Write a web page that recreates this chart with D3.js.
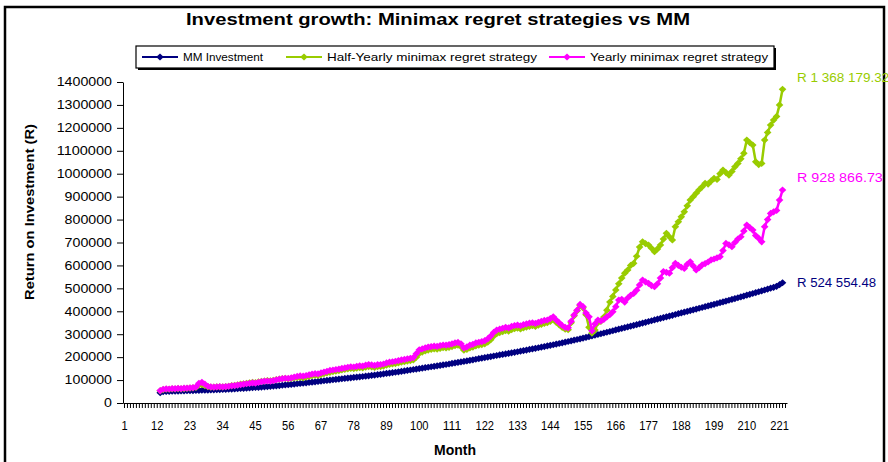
<!DOCTYPE html>
<html>
<head>
<meta charset="utf-8">
<script src="https://cdn.jsdelivr.net/npm/d3@7"></script>
<style>
  html, body { margin: 0; padding: 0; background: #fff; }
  svg { display: block; font-family: Arial, "Liberation Sans", sans-serif; }
</style>
</head>
<body>
<div id="chart"></div>
<script>
// ── Data ──────────────────────────────────────────────────────────────────
const MONTH_COUNT = 223;           // category slots on the x axis
const FIRST_DATA_MONTH = 13;       // series start here
const tickLabels = [1, 12, 23, 34, 45, 56, 67, 78, 89, 100, 111, 122, 133, 144, 155, 166, 177, 188, 199, 210, 221];
const yTicks = [0, 100000, 200000, 300000, 400000, 500000, 600000, 700000, 800000, 900000,
  1000000, 1100000, 1200000, 1300000, 1400000];

const seriesNames = ["MM Investment", "Half-Yearly minimax regret strategy", "Yearly minimax regret strategy"];
const seriesColors = ["#000080", "#99cc00", "#ff00ff"];
const endLabels = ["R 524 554.48", "R 1 368 179.32", "R  928 866.73"];

// months 13 .. 222
const mmValues = [
  45000, 50000, 50500, 51000, 51400, 51800, 52200, 52600, 53000, 53400,
  53800, 54200, 54600, 55000, 55500, 56000, 56500, 57000, 57500, 58000,
  58500, 59000, 59600, 60200, 60900, 61600, 62400, 63200, 64000, 64800,
  65700, 66600, 67500, 68500, 69500, 70500, 71600, 72700, 73800, 75000,
  76200, 77400, 78700, 80000, 81300, 82600, 84000, 85400, 86800, 88200,
  89600, 91000, 92500, 94000, 95500, 97000, 98500, 100000, 101500, 103000,
  104400, 105800, 107200, 108600, 110000, 111400, 112800, 114200, 115600, 117000,
  118600, 120200, 121800, 123500, 125200, 127000, 128800, 130600, 132400, 134200,
  136000, 138000, 140000, 142000, 144000, 146000, 148000, 150000, 152000, 154000,
  156000, 158000, 160000, 162000, 164000, 166000, 168000, 170200, 172400, 174600,
  176800, 179000, 181300, 183600, 186000, 188400, 190800, 193200, 195600, 198000,
  200300, 202600, 204900, 207200, 209500, 211800, 214100, 216400, 218800, 221200,
  223600, 226000, 228500, 231000, 233500, 236000, 238500, 241000, 243600, 246200,
  248800, 251400, 254000, 256800, 259600, 262400, 265300, 268200, 271100, 274000,
  277000, 280000, 283000, 286000, 289200, 292400, 295600, 298800, 302000, 305300,
  308600, 311900, 315200, 318500, 321800, 325100, 328400, 331700, 335000, 338400,
  341800, 345200, 348600, 352000, 355400, 358800, 362200, 365600, 369000, 372400,
  375800, 379200, 382600, 386000, 389400, 392800, 396200, 399600, 403000, 406400,
  409800, 413200, 416600, 420000, 423500, 427000, 430500, 434000, 437500, 441000,
  444600, 448200, 451800, 455400, 459000, 462700, 466400, 470100, 473800, 477600,
  481400, 485200, 489000, 492900, 496800, 500700, 504700, 508800, 516000, 524554.48
];

const halfYearlyValues = [
  53000, 58000, 60000, 60000, 61500, 61000, 62500, 62000, 63000, 64000,
  65000, 66000, 68000, 78000, 80000, 76000, 71000, 69000, 69000, 70000,
  70500, 70000, 71000, 73000, 75500, 77000, 79000, 82000, 84000, 86000,
  88000, 90000, 89000, 92000, 94000, 96000, 98000, 97000, 99000, 102000,
  104000, 106000, 107000, 105000, 107000, 109000, 111000, 112000, 110000, 113000,
  116000, 119000, 121000, 120000, 124000, 128000, 131000, 134000, 137000, 139000,
  141000, 144000, 146000, 149000, 151000, 150000, 152000, 154000, 153000, 156000,
  159000, 157000, 155000, 158000, 159000, 161000, 165000, 168000, 170000, 172000,
  175000, 178000, 180000, 183000, 185000, 188000, 200000, 216000, 222000, 227000,
  231000, 234000, 236000, 235000, 238000, 241000, 240000, 243000, 246000, 250000,
  252000, 246000, 230000, 234000, 240000, 244000, 249000, 252000, 255000, 258000,
  265000, 276000, 292000, 302000, 307000, 311000, 315000, 313000, 320000, 324000,
  326000, 323000, 328000, 331000, 334000, 337000, 334000, 339000, 343000, 347000,
  350000, 356000, 364000, 352000, 341000, 330000, 322000, 320000, 350000, 380000,
  402000, 425000, 415000, 385000, 330000, 305000, 318000, 350000, 356000, 375000,
  405000, 440000, 465000, 493000, 520000, 545000, 566000, 580000, 600000, 609000,
  640000, 680000, 703000, 695000, 689000, 675000, 660000, 672000, 689000, 715000,
  740000, 725000, 711000, 769000, 790000, 812000, 834000, 860000, 885000, 900000,
  915000, 930000, 943000, 958000, 955000, 968000, 980000, 975000, 1000000, 1016000,
  1005000, 994000, 1010000, 1030000, 1045000, 1065000, 1089000, 1147000, 1135000, 1125000,
  1052000, 1040000, 1045000, 1147000, 1180000, 1212000, 1234000, 1250000, 1300000, 1368179.32
];

const yearlyValues = [
  54000, 60000, 62000, 61000, 63000, 62500, 64000, 63000, 64500, 65000,
  66000, 67000, 70000, 86000, 90000, 82000, 73000, 70000, 69500, 70500,
  71000, 70000, 71500, 73000, 75000, 76000, 78000, 80000, 82000, 84000,
  86000, 88000, 87000, 90000, 93000, 95000, 96000, 95000, 98000, 101000,
  104000, 106000, 108000, 107000, 110000, 113000, 116000, 118000, 117000, 120000,
  123000, 126000, 128000, 127000, 131000, 135000, 138000, 142000, 144000, 146000,
  148000, 151000, 153000, 156000, 158000, 157000, 160000, 162000, 161000, 165000,
  168000, 166000, 164000, 167000, 168000, 170000, 175000, 178000, 180000, 182000,
  185000, 188000, 190000, 193000, 195000, 198000, 215000, 232000, 236000, 240000,
  244000, 246000, 248000, 247000, 250000, 253000, 252000, 255000, 258000, 262000,
  264000, 258000, 240000, 245000, 252000, 256000, 262000, 265000, 268000, 272000,
  280000, 292000, 308000, 318000, 322000, 326000, 330000, 328000, 334000, 338000,
  340000, 337000, 342000, 345000, 348000, 350000, 347000, 352000, 356000, 360000,
  362000, 368000, 376000, 362000, 350000, 338000, 330000, 328000, 356000, 384000,
  405000, 430000, 420000, 392000, 376000, 315000, 345000, 362000, 358000, 365000,
  376000, 385000, 398000, 420000, 449000, 452000, 440000, 458000, 470000, 478000,
  492000, 515000, 536000, 528000, 522000, 512000, 507000, 520000, 545000, 573000,
  570000, 566000, 590000, 609000, 600000, 592000, 587000, 605000, 616000, 598000,
  580000, 590000, 602000, 608000, 615000, 624000, 628000, 633000, 638000, 665000,
  696000, 690000, 682000, 700000, 715000, 725000, 750000, 776000, 765000, 754000,
  730000, 718000, 703000, 769000, 800000, 827000, 834000, 840000, 885000, 928866.73
];

const seriesValues = [mmValues, halfYearlyValues, yearlyValues];

// ── Layout ────────────────────────────────────────────────────────────────
const W = 888, H = 462;
const PLOT = { left: 123, right: 787, top: 82, bottom: 403 };

const months = d3.range(1, MONTH_COUNT + 1);
const x = d3.scaleBand().domain(months).range([PLOT.left, PLOT.right]).padding(0);
const y = d3.scaleLinear().domain([0, 1400000]).range([PLOT.bottom, PLOT.top]);
const cx = (m) => x(m) + x.bandwidth() / 2;

const svg = d3.select("#chart").append("svg").attr("width", W).attr("height", H);
svg.append("rect").attr("width", W).attr("height", H).attr("fill", "#fff");

// outer frame
svg.append("rect")
  .attr("x", 5).attr("y", 7).attr("width", 879).attr("height", 470)
  .attr("fill", "none").attr("stroke", "#000").attr("stroke-width", 2.5);

// ── Title ─────────────────────────────────────────────────────────────────
svg.append("text")
  .attr("x", 186).attr("y", 25)
  .attr("font-size", 17).attr("font-weight", "bold")
  .attr("textLength", 504).attr("lengthAdjust", "spacingAndGlyphs")
  .text("Investment growth: Minimax regret strategies vs MM");

// ── Axes ──────────────────────────────────────────────────────────────────
const yAxis = svg.append("g")
  .attr("transform", `translate(${PLOT.left},0)`)
  .call(d3.axisLeft(y).tickValues(yTicks).tickFormat(d3.format("d")).tickSize(6).tickSizeOuter(0).tickPadding(5));
yAxis.selectAll("text")
  .attr("font-size", 12).attr("fill", "#000").attr("font-family", null)
  .attr("textLength", (d) => String(d).length * 7.9).attr("lengthAdjust", "spacingAndGlyphs");

const xAxis = svg.append("g")
  .attr("transform", `translate(0,${PLOT.bottom})`)
  .call(d3.axisBottom(x).tickValues(months)
    .tickFormat((d) => (tickLabels.includes(d) ? d : ""))
    .tickSize(5).tickSizeOuter(0).tickPadding(13));
xAxis.selectAll("text")
  .attr("font-size", 12).attr("fill", "#000").attr("font-family", null)
  .attr("textLength", (d) => (tickLabels.includes(d) ? String(d).length * 6.2 : null))
  .attr("lengthAdjust", "spacingAndGlyphs");
svg.selectAll(".domain, .tick line").attr("stroke", "#000");

svg.append("text")
  .attr("x", 455).attr("y", 455).attr("text-anchor", "middle")
  .attr("font-size", 14).attr("font-weight", "bold")
  .text("Month");

svg.append("text")
  .attr("transform", "translate(34,212) rotate(-90)")
  .attr("text-anchor", "middle")
  .attr("font-size", 13).attr("font-weight", "bold")
  .attr("textLength", 176).attr("lengthAdjust", "spacingAndGlyphs")
  .text("Return on Investment (R)");

// ── Series ────────────────────────────────────────────────────────────────
const diamond = "M0,-3.6L3.8,0L0,3.6L-3.8,0Z";
const line = d3.line().x((d) => cx(d.m)).y((d) => y(d.v));

seriesValues.forEach((vals, i) => {
  const pts = vals.map((v, k) => ({ m: FIRST_DATA_MONTH + k, v }));
  const g = svg.append("g");
  g.append("path")
    .datum(pts)
    .attr("d", line)
    .attr("fill", "none")
    .attr("stroke", seriesColors[i])
    .attr("stroke-width", 2.5);
  g.selectAll("path.pt")
    .data(pts)
    .join("path")
    .attr("class", "pt")
    .attr("d", diamond)
    .attr("transform", (d) => `translate(${cx(d.m)},${y(d.v)})`)
    .attr("fill", seriesColors[i]);
});

// ── End labels ────────────────────────────────────────────────────────────
const endLabelDy = [0, -11, -12];
seriesValues.forEach((vals, i) => {
  svg.append("text")
    .attr("x", 797)
    .attr("y", y(vals[vals.length - 1]) + endLabelDy[i])
    .attr("dy", "0.35em")
    .attr("font-size", 12)
    .attr("fill", seriesColors[i])
    .attr("textLength", endLabels[i].length * 6.6)
    .attr("lengthAdjust", "spacingAndGlyphs")
    .text(endLabels[i]);
});

// ── Legend ────────────────────────────────────────────────────────────────
const legendKeyX = [142, 286, 549];
const legendTextLen = [80, 210, 178];
const legend = svg.append("g");
legend.append("rect")
  .attr("x", 138).attr("y", 48).attr("width", 638).attr("height", 22)
  .attr("fill", "#000");
legend.append("rect")
  .attr("x", 136).attr("y", 46).attr("width", 638).attr("height", 22)
  .attr("fill", "#fff").attr("stroke", "#000").attr("stroke-width", 1.2);

seriesNames.forEach((name, i) => {
  const kx = legendKeyX[i];
  legend.append("line")
    .attr("x1", kx).attr("x2", kx + 36).attr("y1", 57).attr("y2", 57)
    .attr("stroke", seriesColors[i]).attr("stroke-width", 2);
  legend.append("path")
    .attr("d", diamond)
    .attr("transform", `translate(${kx + 18},57)`)
    .attr("fill", seriesColors[i]);
  legend.append("text")
    .attr("x", kx + 41).attr("y", 61)
    .attr("font-size", 11)
    .attr("textLength", legendTextLen[i]).attr("lengthAdjust", "spacingAndGlyphs")
    .text(name);
});
</script>
</body>
</html>
